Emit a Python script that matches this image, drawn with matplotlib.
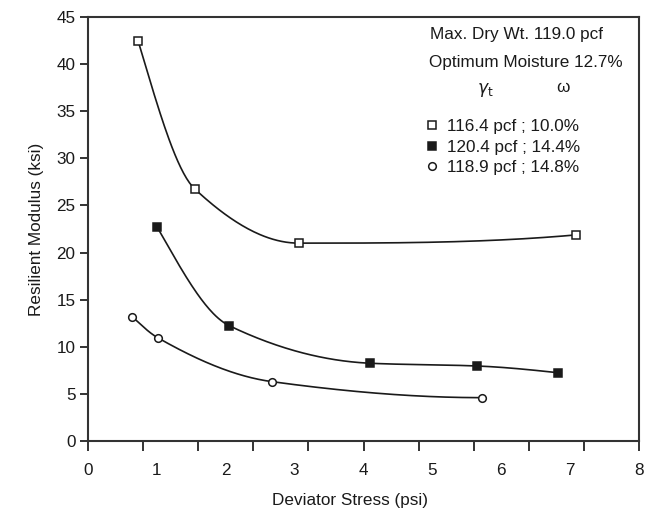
import numpy as np
import matplotlib
matplotlib.use("Agg")
import matplotlib.pyplot as plt
from matplotlib.lines import Line2D

plt.rcParams['font.family'] = ['Liberation Sans', 'DejaVu Sans']

# ---- data ----
stress_open_sq = [0.73, 1.55, 3.06, 7.08]
mod_open_sq = [42.4, 26.75, 21.0, 21.87]

stress_fill_sq = [1.00, 2.05, 4.10, 5.65, 6.82]
mod_fill_sq = [22.75, 12.24, 8.25, 7.96, 7.25]

stress_circle = [0.64, 1.01, 2.67, 5.72]
mod_circle = [13.2, 10.97, 6.30, 4.6]

series_labels = ["116.4 pcf ; 10.0%", "120.4 pcf ; 14.4%", "118.9 pcf ; 14.8%"]
xtick_labels = ['0', '1', '2', '3', '4', '5', '6', '7', '8']
ytick_values = [0, 5, 10, 15, 20, 25, 30, 35, 40, 45]
header1 = "Max. Dry Wt. 119.0 pcf"
header2 = "Optimum Moisture 12.7%"


def pchip(x, y, xs):
    x = np.asarray(x, float); y = np.asarray(y, float)
    n = len(x)
    h = np.diff(x); d = np.diff(y) / h
    m = np.zeros(n)
    for k in range(1, n - 1):
        if d[k - 1] * d[k] <= 0:
            m[k] = 0.0
        else:
            w1 = 2 * h[k] + h[k - 1]; w2 = h[k] + 2 * h[k - 1]
            m[k] = (w1 + w2) / (w1 / d[k - 1] + w2 / d[k])
    def endpt(h0, h1, d0, d1):
        mm = ((2 * h0 + h1) * d0 - h0 * d1) / (h0 + h1)
        if np.sign(mm) != np.sign(d0):
            mm = 0.0
        elif np.sign(d0) != np.sign(d1) and abs(mm) > abs(3 * d0):
            mm = 3 * d0
        return mm
    m[0] = endpt(h[0], h[1], d[0], d[1])
    m[-1] = endpt(h[-1], h[-2], d[-1], d[-2])
    ys = np.empty_like(xs)
    idx = np.clip(np.searchsorted(x, xs) - 1, 0, n - 2)
    for i, xv in enumerate(xs):
        k = idx[i]
        t = (xv - x[k]) / h[k]
        h00 = 2 * t**3 - 3 * t**2 + 1
        h10 = t**3 - 2 * t**2 + t
        h01 = -2 * t**3 + 3 * t**2
        h11 = t**3 - t**2
        ys[i] = h00 * y[k] + h10 * h[k] * m[k] + h01 * y[k + 1] + h11 * h[k] * m[k + 1]
    return ys


FS = 12.3
fig = plt.figure(figsize=(6.5, 5.29), dpi=100)
ax = fig.add_axes([88 / 650, 1 - 441 / 529, (639 - 88) / 650, (441 - 17) / 529])

ink = '#1a1a1a'
series = [
    (stress_open_sq, mod_open_sq, 's', 'white'),
    (stress_fill_sq, mod_fill_sq, 's', ink),
    (stress_circle, mod_circle, 'o', 'white'),
]
handles = []
for (xs, ys, mk, fc), lab in zip(series, series_labels):
    xx = np.linspace(xs[0], xs[-1], 300)
    ax.plot(xx, pchip(xs, ys, xx), color=ink, lw=1.2, zorder=2)
    ax.plot(xs, ys, linestyle='none', marker=mk, ms=5.5, mfc=fc, mec=ink,
            mew=1.1, zorder=3)
    handles.append(Line2D([], [], linestyle='none', marker=mk, ms=5.5,
                          mfc=fc, mec=ink, mew=1.1, label=lab))

ax.set_xlim(0, 8)
ax.set_ylim(0, 45)

ax.xaxis.remove_overlapping_locs = False
ax.set_xticks(np.linspace(0, 8, 11))
ax.set_xticklabels([])
ax.set_xticks(range(len(xtick_labels)), minor=True)
ax.set_xticklabels(xtick_labels, minor=True)
ax.tick_params(axis='x', which='major', direction='out', length=7, width=1.4,
               color='#333333')
ax.tick_params(axis='x', which='minor', length=0, pad=16, labelsize=FS,
               labelcolor=ink)
ax.set_yticks(ytick_values)
ax.tick_params(axis='y', direction='out', length=6, width=1.4, color='#333333',
               pad=3, labelsize=FS, labelcolor=ink)

for sp in ax.spines.values():
    sp.set_linewidth(1.5)
    sp.set_color('#333333')

ax.set_ylabel("Resilient Modulus (ksi)", fontsize=FS, color=ink, labelpad=9)
fig.text(350 / 650, 1 - 500 / 529, "Deviator Stress (psi)", fontsize=FS,
         color=ink, ha='center', va='center')

# header texts
ax.text((430 - 88) / 551, (441 - 35) / 424, header1, transform=ax.transAxes,
        fontsize=FS, color=ink, ha='left', va='center')
ax.text((429 - 88) / 551, (441 - 63) / 424, header2, transform=ax.transAxes,
        fontsize=FS, color=ink, ha='left', va='center')
ax.text((485 - 88) / 551, (441 - 90) / 424, r'$\gamma_{\rm t}$', transform=ax.transAxes,
        fontsize=FS, color=ink, ha='center', va='center')
ax.text((563 - 88) / 551, (441 - 88) / 424, 'ω', transform=ax.transAxes,
        fontsize=FS, color=ink, ha='center', va='center')

leg = ax.legend(handles=handles, loc='upper left',
                bbox_to_anchor=((426 - 88) / 551, (441 - 119) / 424),
                frameon=False, fontsize=FS, handlelength=0.7,
                handletextpad=0.55, labelspacing=0.33, borderpad=0,
                borderaxespad=0)
for t in leg.get_texts():
    t.set_color(ink)

fig.savefig("out.png", dpi=100)
